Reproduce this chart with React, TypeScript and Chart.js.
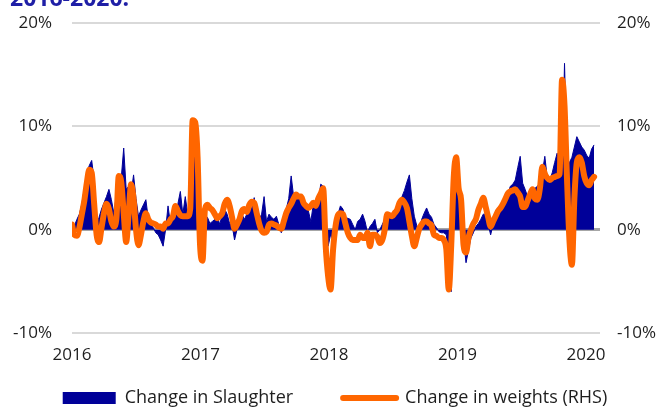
import React, { useEffect, useRef } from 'react';
import { Chart, registerables } from 'chart.js';

Chart.register(...registerables);

// Weekly year-on-year change (%), first week of 2016 onwards
const slaughterChange: number[] = [
  0.5, 0.4, 1.0, 1.5, 2.5, 4.0, 5.5, 6.2, 6.7, 4.8, 0.5, 1.2, 2.0,
  2.6, 3.2, 3.9, 2.9, 1.6, 3.3, 4.0, 5.0, 7.9, 3.9, 4.2, 3.5, 5.3,
  3.0, 1.3, 1.9, 2.4, 2.9, 1.0, 0.5, 0.2, -0.3, -0.5, -1.0, -1.6, 0.0,
  2.3, 0.5, 1.8, 1.5, 2.5, 3.7, 1.5, 3.2, 1.5, 2.0, 9.5, 10.3, 8.0,
  2.0, 1.0, 1.0, 1.2, 0.6, 0.8, 1.0, 1.3, 0.5, 1.5, 2.0, 1.5, 0.6,
  0.5, -1.0, 0.0, 1.0, 1.5, 1.0, 1.5, 2.5, 2.0, 3.1, 0.8, 1.0, 1.5,
  3.2, 0.8, 1.5, 1.2, 1.0, 1.3, 0.5, -0.3, 0.8, 2.0, 3.0, 5.2, 3.2,
  3.5, 3.0, 2.8, 2.5, 2.5, 1.8, 0.8, 2.5, 2.2, 2.6, 4.4, 4.2, 0.0,
  -1.6, -0.5, -1.0, 0.0, 1.5, 2.3, 2.0, 1.2, 1.1, 1.0, 0.5, 0.0, 0.8,
  1.0, 1.5, 0.8, -0.3, 0.3, 0.6, 1.0, -0.3, 0.0, 0.5, 1.0, 1.5, 1.4,
  1.5, 1.9, 2.3, 2.8, 3.2, 3.8, 4.6, 5.3, 3.0, 1.3, 0.4, 0.0, 1.0,
  1.6, 2.1, 1.5, 1.2, 0.5, 0.2, -0.2, -0.3, -0.3, -0.5, -3.0, -6.0, 3.0,
  6.5, 4.5, 3.0, -1.0, -3.2, -2.0, -0.8, -0.3, 0.3, 0.6, 1.0, 1.5, 1.5,
  0.5, -0.5, 0.5, 1.2, 1.8, 2.3, 2.3, 2.8, 3.5, 4.2, 4.4, 4.8, 6.0,
  7.1, 4.5, 3.9, 3.2, 3.5, 3.9, 4.0, 4.2, 4.5, 5.5, 7.1, 5.0, 4.8,
  5.5, 6.5, 7.4, 5.5, 6.0, 16.1, 6.7, 6.5, 7.0, 8.0, 9.0, 8.5, 8.0,
  7.7, 7.2, 6.9, 7.8, 8.2,
];

const weightsChange: number[] = [
  0.5, -0.5, -0.6, 0.2, 1.5, 2.8, 4.5, 5.8, 5.5, 2.5, -0.5, -1.2, 0.2,
  1.6, 2.5, 2.0, 0.8, 0.3, 1.0, 5.2, 4.6, 1.6, -1.2, 1.5, 4.4, 3.0,
  0.0, -1.5, -0.5, 0.8, 1.6, 1.0, 0.7, 0.6, 0.5, 0.3, 0.3, 0.1, 0.6,
  0.6, 1.0, 1.3, 2.3, 1.8, 1.4, 1.3, 1.3, 1.3, 2.0, 10.6, 10.4, 7.0,
  -1.5, -3.0, 2.0, 2.4, 2.1, 1.9, 1.5, 1.1, 1.3, 1.6, 2.5, 2.9, 2.3,
  1.2, 0.1, 0.5, 1.0, 1.8, 2.0, 1.7, 2.4, 2.7, 2.6, 1.6, 0.6, -0.1,
  -0.3, -0.2, 0.5, 0.6, 0.5, 0.4, 0.2, 0.1, 0.8, 1.6, 2.1, 2.5, 3.0,
  3.4, 3.2, 3.2, 2.6, 2.3, 2.1, 2.3, 2.6, 2.3, 3.0, 3.5, 4.0, -1.5,
  -4.5, -5.8, -2.0, 0.3, 1.4, 1.6, 1.5, 0.6, -0.3, -0.8, -1.0, -1.0, -1.0,
  -0.5, -0.8, -0.8, -0.3, -1.6, -0.5, -0.5, -0.7, -1.3, -1.0, 0.0, 1.5, 1.4,
  1.3, 1.6, 1.9, 2.6, 2.9, 2.6, 2.1, 0.8, -0.6, -1.6, -0.8, 0.1, 0.5,
  0.8, 0.8, 0.6, 0.4, -0.5, -0.6, -0.8, -0.8, -1.0, -1.9, -5.8, -1.5, 5.0,
  7.0, 4.0, 2.9, -1.5, -2.2, -0.8, 0.0, 0.6, 1.0, 1.9, 2.5, 3.1, 2.2,
  1.2, 0.3, 0.8, 1.3, 1.8, 2.1, 2.5, 3.0, 3.5, 3.7, 3.8, 3.9, 3.6,
  3.2, 2.2, 2.2, 2.8, 3.4, 3.9, 3.0, 2.9, 4.0, 6.1, 5.4, 5.0, 4.8,
  5.0, 5.1, 5.2, 5.4, 14.5, 12.0, 5.0, -1.0, -3.4, 3.0, 6.5, 7.0, 6.5,
  5.2, 4.5, 4.3, 4.8, 5.1,
];

const yearTicks: number[] = [2016, 2017, 2018, 2019, 2020];
const percentTicks: number[] = [-10, 0, 10, 20];
const seriesLabels: string[] = ['Change in Slaughter', 'Change in weights (RHS)'];
const titleTail = '2016-2020.';

const START_YEAR = 2016;
const WEEKS_PER_YEAR = 52.18;
const X_MAX = 2020.109;

const NAVY = '#000099';
const ORANGE = '#FF6600';
const TEXT = '#1e1e1e';
const FONT = '"Open Sans", "Noto Sans", sans-serif';

const toPoints = (vals: number[]) =>
  vals.map((v, i) => ({ x: START_YEAR + i / WEEKS_PER_YEAR, y: v }));

export default function App() {
  const canvasRef = useRef<HTMLCanvasElement | null>(null);

  useEffect(() => {
    document.body.style.margin = '0';
    const canvas = canvasRef.current;
    if (!canvas) return;

    const tickFont = { family: FONT, size: 17 };

    const chart = new Chart(canvas, {
      type: 'line',
      data: {
        datasets: [
          {
            label: seriesLabels[0],
            data: toPoints(slaughterChange),
            yAxisID: 'y',
            fill: 'origin',
            backgroundColor: NAVY,
            borderColor: NAVY,
            borderWidth: 1,
            pointRadius: 0,
            tension: 0,
            order: 2,
          },
          {
            label: seriesLabels[1],
            data: toPoints(weightsChange),
            yAxisID: 'y1',
            fill: false,
            borderColor: ORANGE,
            backgroundColor: ORANGE,
            borderWidth: 6,
            borderJoinStyle: 'round',
            borderCapStyle: 'round',
            cubicInterpolationMode: 'monotone',
            pointRadius: 0,
            order: 1,
          },
        ],
      },
      options: {
        animation: false,
        responsive: false,
        devicePixelRatio: 1,
        layout: { padding: { top: 23, bottom: 1, left: 10, right: 0 } },
        plugins: {
          tooltip: { enabled: false },
          legend: {
            position: 'bottom',
            title: {
              display: true,
              text: '',
              padding: { top: -45.5, bottom: 0 },
              font: { size: 10, lineHeight: 1 },
            },
            labels: {
              usePointStyle: true,
              pointStyleWidth: 53,
              boxHeight: 12,
              padding: 50,
              color: TEXT,
              font: { family: FONT, size: 18 },
              generateLabels: () => [
                {
                  text: seriesLabels[0],
                  fillStyle: NAVY,
                  strokeStyle: NAVY,
                  lineWidth: 0,
                  pointStyle: 'rect',
                  hidden: false,
                  datasetIndex: 0,
                  fontColor: TEXT,
                },
                {
                  text: seriesLabels[1],
                  fillStyle: ORANGE,
                  strokeStyle: ORANGE,
                  lineWidth: 6,
                  lineCap: 'round',
                  pointStyle: 'line',
                  hidden: false,
                  datasetIndex: 1,
                  fontColor: TEXT,
                },
              ],
            },
          },
        },
        scales: {
          x: {
            type: 'linear',
            min: START_YEAR,
            max: X_MAX,
            afterBuildTicks: (s: any) => {
              s.ticks = yearTicks.map((value) => ({ value }));
            },
            afterFit: (s: any) => {
              s.height = 41.5;
            },
            ticks: {
              autoSkip: false,
              maxRotation: 0,
              padding: 12,
              color: TEXT,
              font: tickFont,
              callback: (v: any) => String(v),
            },
            grid: { display: false, drawTicks: false },
            border: { display: false },
          },
          y: {
            position: 'left',
            min: -10,
            max: 20,
            afterBuildTicks: (s: any) => {
              s.ticks = percentTicks.map((value) => ({ value }));
            },
            afterFit: (s: any) => {
              s.width = 62;
              s.paddingTop = 10;
              s.paddingBottom = 10;
            },
            ticks: {
              padding: 20,
              color: TEXT,
              font: tickFont,
              callback: (v: any) => `${v}%`,
            },
            grid: {
              drawTicks: false,
              color: (c: any) => (c.tick && c.tick.value === 0 ? '#a6a6a6' : '#d9d9d9'),
              lineWidth: (c: any) => (c.tick && c.tick.value === 0 ? 3 : 2),
            },
            border: { display: false },
          },
          y1: {
            position: 'right',
            min: -10,
            max: 20,
            afterBuildTicks: (s: any) => {
              s.ticks = percentTicks.map((value) => ({ value }));
            },
            afterFit: (s: any) => {
              s.width = 60;
              s.paddingTop = 10;
              s.paddingBottom = 10;
            },
            ticks: {
              padding: 17,
              color: TEXT,
              font: tickFont,
              callback: (v: any) => `${v}%`,
            },
            grid: { display: false, drawTicks: false },
            border: { display: false },
          },
        },
      } as any,
    });

    return () => {
      chart.destroy();
    };
  }, []);

  return (
    <div style={{ position: 'relative', width: 660, height: 418, overflow: 'hidden', background: '#fff' }}>
      <canvas ref={canvasRef} width={660} height={418} style={{ position: 'absolute', left: 0, top: 0 }} />
      <div
        style={{
          position: 'absolute',
          left: 10,
          top: -14,
          fontFamily: FONT,
          fontWeight: 700,
          fontSize: 23,
          lineHeight: '23px',
          color: '#1f1fa6',
          whiteSpace: 'nowrap',
        }}
      >
        {titleTail}
      </div>
    </div>
  );
}
